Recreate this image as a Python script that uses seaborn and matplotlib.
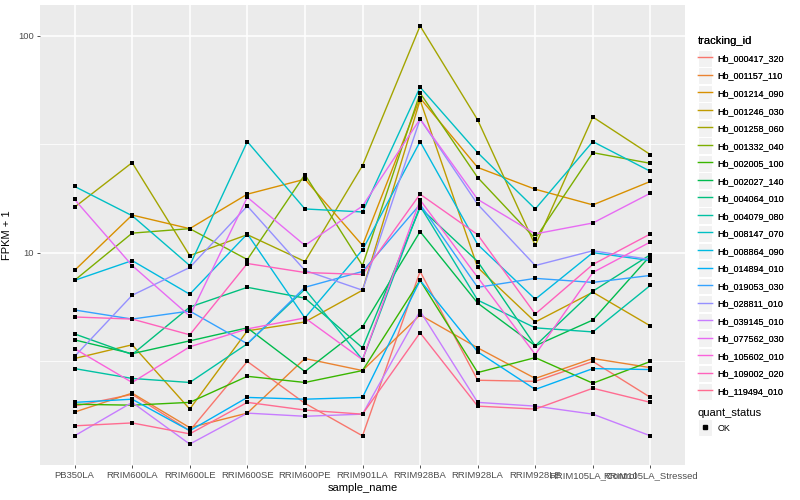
import matplotlib
matplotlib.use('Agg')
import matplotlib.pyplot as plt
import seaborn as sns
import pandas as pd
import numpy as np
from matplotlib.lines import Line2D
from matplotlib.patches import Rectangle
from matplotlib.legend_handler import HandlerLine2D

samples = ['PB350LA', 'RRIM600LA', 'RRIM600LE', 'RRIM600SE', 'RRIM600PE', 'RRIM901LA',
           'RRIM928BA', 'RRIM928LA', 'RRIM928LE', 'RRIM105LA_Control', 'RRIM105LA_Stressed']

genes = ['Hb_000417_320', 'Hb_001157_110', 'Hb_001214_090', 'Hb_001246_030', 'Hb_001258_060',
         'Hb_001332_040', 'Hb_002005_100', 'Hb_002027_140', 'Hb_004064_010', 'Hb_004079_080',
         'Hb_008147_070', 'Hb_008864_090', 'Hb_014894_010', 'Hb_019053_030', 'Hb_028811_010',
         'Hb_039145_010', 'Hb_077562_030', 'Hb_105602_010', 'Hb_109002_020', 'Hb_119494_010']

# FPKM + 1, one list per gene, in sample order
hb_000417_320 = [1.96, 2.22, 1.51, 3.15, 2.02, 1.43, 8.19, 2.58, 2.55, 3.15, 2.15]
hb_001157_110 = [1.84, 2.25, 1.56, 1.82, 3.25, 2.86, 5.16, 3.64, 2.63, 3.25, 2.95]
hb_001214_090 = [8.28, 14.9, 12.9, 18.6, 21.8, 10.8, 51.6, 24.7, 19.6, 16.6, 21.3]
hb_001246_030 = [3.25, 3.76, 1.90, 4.36, 4.79, 6.71, 50.5, 8.54, 4.79, 6.57, 4.59]
hb_001258_060 = [16.2, 26.0, 9.69, 12.1, 9.10, 25.2, 111.0, 40.9, 10.8, 42.2, 28.3]
hb_001332_040 = [7.45, 12.3, 12.9, 9.29, 22.9, 8.72, 54.4, 22.2, 11.6, 28.9, 25.8]
hb_002005_100 = [2.00, 1.98, 2.04, 2.69, 2.52, 2.86, 7.45, 2.80, 3.28, 2.50, 3.15]
hb_002027_140 = [3.96, 3.42, 3.92, 4.50, 2.83, 4.55, 12.5, 5.85, 3.72, 4.89, 9.69]
hb_004064_010 = [4.22, 3.39, 5.61, 6.92, 6.17, 3.64, 16.1, 9.10, 3.72, 6.64, 9.79]
hb_004079_080 = [2.92, 2.63, 2.52, 3.80, 6.78, 3.21, 16.4, 6.04, 4.50, 4.31, 7.07]
hb_008147_070 = [20.2, 14.8, 8.72, 32.5, 15.9, 15.4, 57.9, 28.9, 15.9, 32.5, 23.7]
hb_008864_090 = [7.45, 9.19, 6.43, 12.2, 5.00, 10.3, 32.5, 10.9, 6.10, 10.0, 9.19]
hb_014894_010 = [2.04, 2.11, 1.51, 2.15, 2.11, 2.15, 7.45, 3.49, 2.34, 2.92, 2.89]
hb_019053_030 = [5.44, 4.94, 5.38, 3.80, 6.92, 8.19, 16.7, 6.92, 7.61, 7.29, 7.85]
hb_028811_010 = [3.32, 6.36, 8.54, 16.4, 8.28, 6.71, 41.3, 16.7, 8.72, 10.2, 9.29]
hb_039145_010 = [1.43, 2.04, 1.31, 1.82, 1.76, 1.80, 5.38, 2.04, 1.96, 1.80, 1.43]
hb_077562_030 = [17.6, 8.72, 5.10, 18.0, 10.8, 16.4, 41.3, 17.6, 12.2, 13.7, 18.8]
hb_105602_010 = [3.61, 2.52, 3.68, 4.45, 5.00, 3.21, 17.5, 7.69, 3.39, 8.10, 11.2]
hb_109002_020 = [5.05, 4.94, 4.18, 8.91, 8.10, 7.93, 18.6, 12.1, 5.21, 8.82, 12.2]
hb_119494_010 = [1.59, 1.64, 1.46, 2.04, 1.88, 1.80, 4.27, 1.96, 1.90, 2.37, 2.04]

series = [hb_000417_320, hb_001157_110, hb_001214_090, hb_001246_030, hb_001258_060,
          hb_001332_040, hb_002005_100, hb_002027_140, hb_004064_010, hb_004079_080,
          hb_008147_070, hb_008864_090, hb_014894_010, hb_019053_030, hb_028811_010,
          hb_039145_010, hb_077562_030, hb_105602_010, hb_109002_020, hb_119494_010]

# ggplot2 default hue palette for 20 levels
palette = ['#F8766D', '#EA8331', '#D89000', '#C09B00', '#A3A500', '#7CAE00', '#39B600',
           '#00BB4E', '#00BF7D', '#00C1A3', '#00BFC4', '#00BAE0', '#00B0F6', '#35A2FF',
           '#9590FF', '#C77CFF', '#E76BF3', '#FA62DB', '#FF62BC', '#FF6C91']

rows = []
for g, vals in zip(genes, series):
    for s, v in zip(samples, vals):
        rows.append({'tracking_id': g, 'sample_name': s, 'fpkm1': v, 'quant_status': 'OK'})
df = pd.DataFrame(rows)

plt.rcParams['font.family'] = ['Liberation Sans', 'DejaVu Sans']

fig = plt.figure(figsize=(8, 5), dpi=100)
ax = fig.add_axes([40 / 800, 35 / 500, 645 / 800, 460 / 500])
ax.set_facecolor('#EBEBEB')

sns.lineplot(data=df, x='sample_name', y='fpkm1', hue='tracking_id', hue_order=genes,
             palette=palette, sort=False, errorbar=None, linewidth=1.0, legend=False, ax=ax)
sns.scatterplot(data=df, x='sample_name', y='fpkm1', color='black', marker='s', s=9,
                linewidth=0, legend=False, ax=ax, zorder=5)

ax.set_yscale('log')
lo, hi = np.log10(df['fpkm1'].min()), np.log10(df['fpkm1'].max())
pad = (hi - lo) * 0.05
ax.set_ylim(10 ** (lo - pad), 10 ** (hi + pad))
ax.set_xlim(-0.6, len(samples) - 1 + 0.6)

ax.set_yticks([10, 100])
ax.set_yticklabels(['10', '100'])
ax.set_yticks([10 ** 0.5, 10 ** 1.5], minor=True)
ax.yaxis.set_minor_formatter(plt.NullFormatter())
ax.set_xticks(range(len(samples)))
ax.set_xticklabels(samples)

ax.grid(which='major', color='white', linewidth=1.1)
ax.grid(which='minor', axis='y', color='white', linewidth=0.55)
ax.set_axisbelow(True)
for sp in ax.spines.values():
    sp.set_visible(False)
ax.tick_params(axis='both', which='major', length=2.5, color='#333333', width=0.6,
               labelsize=6.8, labelcolor='#4D4D4D', pad=2)
ax.tick_params(axis='y', which='minor', length=0)
ax.set_xlabel('sample_name', fontsize=8, labelpad=2)
ax.set_ylabel('FPKM + 1', fontsize=8, labelpad=4)


class KeyHandler(HandlerLine2D):
    def create_artists(self, legend, orig_handle, xdescent, ydescent, width, height, fontsize, trans):
        arts = super().create_artists(legend, orig_handle, xdescent, ydescent, width, height, fontsize, trans)
        bg = Rectangle((-xdescent, -ydescent - 2.5), width, height + 5, facecolor='#F2F2F2',
                       edgecolor='white', linewidth=0.8, transform=trans)
        return [bg] + arts


handles = [Line2D([], [], color=c, linewidth=1.0) for c in palette]
leg1 = fig.legend(handles, genes, title='tracking_id', loc='upper left',
                  bbox_to_anchor=(0.862, 0.945), frameon=False, fontsize=6.5,
                  title_fontsize=8, handlelength=1.6, handleheight=1.3, labelspacing=0.84,
                  handletextpad=0.6, alignment='left', handler_map={Line2D: KeyHandler()})
fig.add_artist(leg1)

pt = Line2D([], [], color='black', marker='s', markersize=2.5, linestyle='None')
fig.legend([pt], ['OK'], title='quant_status', loc='upper left',
           bbox_to_anchor=(0.862, 0.200), frameon=False, fontsize=6.5, title_fontsize=8,
           handlelength=1.6, handleheight=1.3, handletextpad=0.6, alignment='left',
           handler_map={Line2D: KeyHandler()})

fig.savefig('out.png', dpi=100)
